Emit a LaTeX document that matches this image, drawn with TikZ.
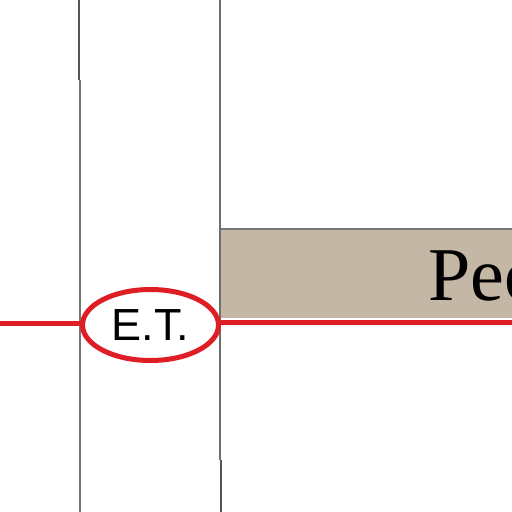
\documentclass[tikz,border=0pt]{standalone}
\usepackage{fontspec}
\setmainfont{Liberation Serif}
\newfontfamily\etfont{Liberation Sans}
\usetikzlibrary{shapes.geometric}
\definecolor{tanfill}{RGB}{197,183,165}
\definecolor{redline}{RGB}{222,30,36}
\definecolor{grayline}{RGB}{85,85,85}
\tikzset{
  road/.style={draw=redline, line width=5pt},
  wall/.style={draw=grayline, line width=1.6pt},
  etnode/.style={ellipse, draw=redline, fill=white, line width=5pt, minimum width=136pt, minimum height=71pt, inner sep=0pt, font=\etfont\fontsize{45}{50}\selectfont},
}
\begin{document}
\begin{tikzpicture}[x=1pt,y=-1pt]
\useasboundingbox (0,0) rectangle (512,512);
\clip (0,0) rectangle (512,512);
% tan block
\fill[tanfill] (220,229) rectangle (520,318);
\draw[grayline!80, line width=1.5pt] (220,229) -- (520,229);
\node[anchor=base west, inner sep=0pt, font=\fontsize{76}{80}\selectfont] (peo) at (428,300) {Peo};
% vertical walls
\draw[wall] (79,0) -- (79,80);
\draw[wall, grayline!80] (80,80) -- (80,512);
\draw[wall, grayline!85] (220,0) -- (220,460);
\draw[wall] (221,460) -- (221,512);
% red line and ellipse
\coordinate (lend) at (0,323);
\coordinate (rend) at (520,322);
\node[etnode] (et) at (150.5,325) {E.T.};
\draw[road] (lend) -- (lend -| et.west);
\draw[road] (rend -| et.east) -- (rend);
\end{tikzpicture}
\end{document}
